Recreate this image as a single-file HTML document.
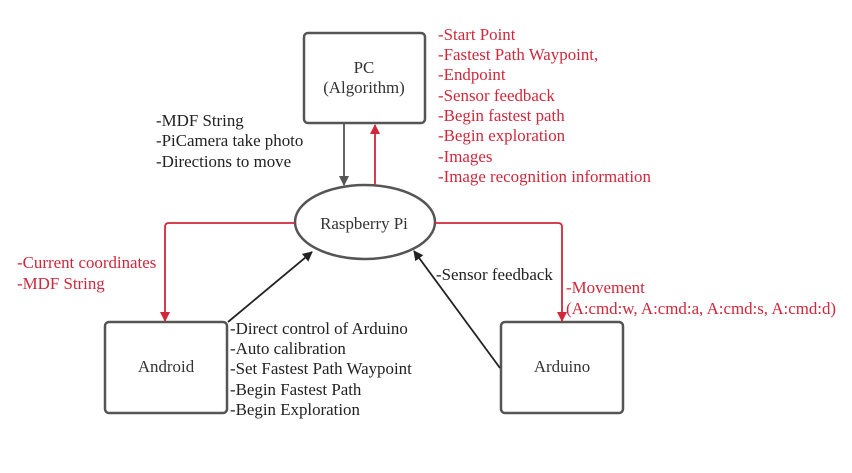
<!DOCTYPE html>
<html><head><style>
body{margin:0;background:#fff;}
svg text{font-family:"Liberation Serif",serif;font-size:16.9px;}
</style></head><body>
<svg width="852" height="468" xmlns="http://www.w3.org/2000/svg">
<defs>
<marker id="ag" markerWidth="10" markerHeight="10" refX="9" refY="5" orient="auto" markerUnits="userSpaceOnUse"><path d="M0,0 L10,5 L0,10 z" fill="#555"/></marker>
<marker id="ar" markerWidth="10" markerHeight="10" refX="9" refY="5" orient="auto" markerUnits="userSpaceOnUse"><path d="M0,0 L10,5 L0,10 z" fill="#d0283a"/></marker>
<marker id="ak" markerWidth="10" markerHeight="10" refX="9" refY="5" orient="auto" markerUnits="userSpaceOnUse"><path d="M0,0 L10,5 L0,10 z" fill="#222"/></marker>
</defs>
<g fill="#fff" stroke="#555" stroke-width="2.5">
<rect x="304" y="33" width="121" height="90" rx="4"/>
<ellipse cx="365" cy="222" rx="70" ry="37"/>
<rect x="105" y="322" width="122" height="91" rx="4"/>
<rect x="501" y="322" width="122" height="91" rx="4"/>
</g>
<g fill="none" stroke-width="1.8">
<line x1="344" y1="123" x2="344" y2="185" stroke="#555" marker-end="url(#ag)"/>
<line x1="375" y1="185" x2="375" y2="125" stroke="#d0283a" marker-end="url(#ar)"/>
<path d="M295,223 H169 Q165,223 165,227 V321" stroke="#d0283a" marker-end="url(#ar)"/>
<path d="M435,223 H558 Q562,223 562,227 V321" stroke="#d0283a" marker-end="url(#ar)"/>
<line x1="228" y1="322" x2="312" y2="252" stroke="#222" marker-end="url(#ak)"/>
<line x1="500" y1="368" x2="414" y2="251" stroke="#222" marker-end="url(#ak)"/>
</g>
<g fill="#333" text-anchor="middle">
<text x="364" y="73">PC</text>
<text x="364" y="93">(Algorithm)</text>
<text x="364" y="229">Raspberry Pi</text>
<text x="166" y="372">Android</text>
<text x="562" y="372">Arduino</text>
</g>
<g fill="#d0283a">
<text x="438" y="40">-Start Point</text>
<text x="438" y="60">-Fastest Path Waypoint,</text>
<text x="438" y="80">-Endpoint</text>
<text x="438" y="101">-Sensor feedback</text>
<text x="438" y="121">-Begin fastest path</text>
<text x="438" y="141">-Begin exploration</text>
<text x="438" y="162">-Images</text>
<text x="438" y="182">-Image recognition information</text>
<text x="17" y="268">-Current coordinates</text>
<text x="17" y="289">-MDF String</text>
<text x="566" y="293">-Movement</text>
<text x="566" y="314">(A:cmd:w, A:cmd:a, A:cmd:s, A:cmd:d)</text>
</g>
<g fill="#222">
<text x="156" y="126">-MDF String</text>
<text x="156" y="146">-PiCamera take photo</text>
<text x="156" y="167">-Directions to move</text>
<text x="436" y="280">-Sensor feedback</text>
<text x="230" y="334">-Direct control of Arduino</text>
<text x="230" y="354">-Auto calibration</text>
<text x="230" y="374">-Set Fastest Path Waypoint</text>
<text x="230" y="395">-Begin Fastest Path</text>
<text x="230" y="415">-Begin Exploration</text>
</g>
</svg>
</body></html>
